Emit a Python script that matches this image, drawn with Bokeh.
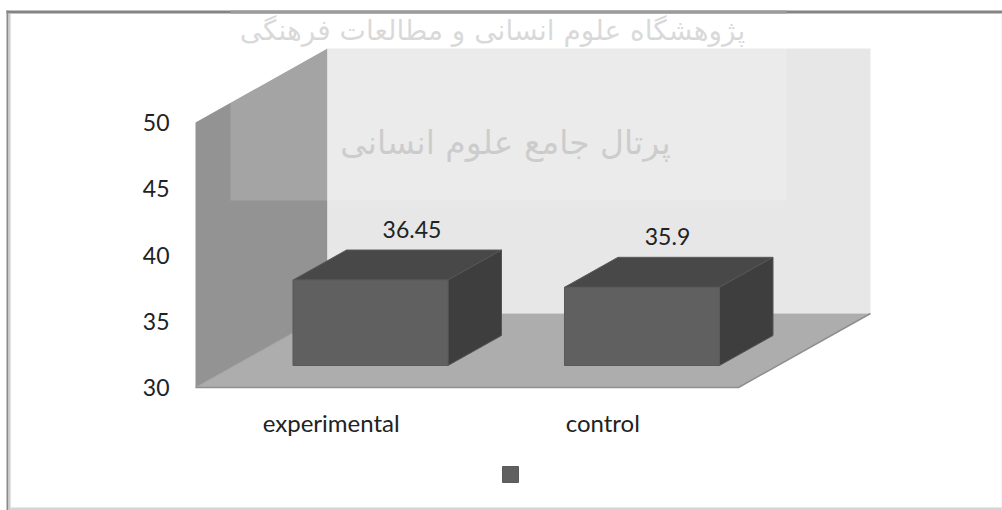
from bokeh.plotting import figure
from bokeh.embed import file_html
from bokeh.resources import INLINE
from bokeh.core.properties import value
from bokeh.models import (Range1d, FixedTicker, BoxAnnotation, Legend, LegendItem)

categories = ["experimental", "control"]
scores = [36.45, 35.9]
score_labels = ["36.45", "35.9"]
y_ticks = [30, 35, 40, 45, 50]
watermark_top = "پژوهشگاه علوم انسانی و مطالعات فرهنگی"
watermark_mid = "پرتال جامع علوم انسانی"

# plot geometry: one category is 271.5 px wide, one value unit is 13.25 px tall
PX_X, PX_Y = 271.5, 13.25
X0_PAGE, Y30_PAGE = 195.0, 387.0
W, H = 1002, 510
px = lambda x: (x - X0_PAGE) / PX_X
py = lambda y: 30 + (Y30_PAGE - y) / PX_Y

DEPTH_X = 132 / PX_X
DEPTH_Y = 74 / PX_Y
Y_MIN, Y_MAX = 30, 50
N = len(categories)
FONT = "Lato"

def dx(d):
    return d * DEPTH_X

def dy(d):
    return d * DEPTH_Y

p = figure(width=W, height=H, output_backend="svg", toolbar_location=None,
           x_range=Range1d(px(0), px(W)), y_range=Range1d(py(H), py(0)),
           min_border=0, min_border_left=0, min_border_right=0, min_border_top=0,
           min_border_bottom=0, background_fill_color="white", border_fill_color="white",
           outline_line_color=None)
p.grid.visible = False

# walls and floor
p.patch([0, dx(1), dx(1), 0], [Y_MIN, Y_MIN + dy(1), Y_MAX + dy(1), Y_MAX],
        fill_color="#939393", line_color=None)
p.patch([dx(1), N + dx(1), N + dx(1), dx(1)],
        [Y_MIN + dy(1), Y_MIN + dy(1), Y_MAX + dy(1), Y_MAX + dy(1)],
        fill_color="#e7e7e7", line_color=None)
p.patch([0, N, N + dx(1), dx(1)], [Y_MIN, Y_MIN, Y_MIN + dy(1), Y_MIN + dy(1)],
        fill_color="#adadad", line_color=None)
p.line([0, N, N + dx(1)], [Y_MIN, Y_MIN, Y_MIN + dy(1)], line_color="#8f8f8f", line_width=1.5)
p.line([0, dx(1)], [Y_MIN, Y_MIN + dy(1)], line_color="#a0a0a0", line_width=1)

# watermark
p.text([px(492)], [py(30)], text=[watermark_top], text_font=value("DejaVu Sans"),
       text_font_size="28px", text_color="#b4b4b4", text_alpha=0.6,
       text_align="center", text_baseline="middle")
p.text([px(505)], [py(142)], text=[watermark_mid], text_font=value("DejaVu Sans"),
       text_font_size="33px", text_color="#b4b4b4", text_alpha=0.7,
       text_align="center", text_baseline="middle")
p.quad(left=[px(230)], right=[px(786)], top=[py(10)], bottom=[py(200)],
       fill_color="white", fill_alpha=0.16, line_color=None)

# 3D bars
BAR_W = 155 / PX_X
FRONT, BACK = 22 / 74, 52 / 74
lefts = [i + 0.5 - BAR_W / 2 + dx(FRONT) for i in range(N)]
rights = [l + BAR_W for l in lefts]
bases = [Y_MIN + dy(FRONT)] * N
tops = [b + s - Y_MIN for b, s in zip(bases, scores)]
depth_x = dx(BACK - FRONT)
depth_y = dy(BACK - FRONT)

p.patches([[l, r, r + depth_x, l + depth_x] for l, r in zip(lefts, rights)],
          [[t, t, t + depth_y, t + depth_y] for t in tops],
          fill_color="#484848", line_color="#5a5a5a", line_width=1)
p.patches([[r, r + depth_x, r + depth_x, r] for r in rights],
          [[b, b + depth_y, t + depth_y, t] for b, t in zip(bases, tops)],
          fill_color="#3e3e3e", line_color="#555555", line_width=1)
front = p.quad(left=lefts, right=rights, bottom=bases, top=tops,
               fill_color="#606060", line_color="#5a5a5a", line_width=1)

# data labels, sitting over the back edge of each bar
p.text([i + 0.5 + dx(BACK) for i in range(N)], [t + depth_y for t in tops],
       text=score_labels, x_offset=[-12, -28], y_offset=[-21, -21],
       text_font=value(FONT), text_font_size="23px", text_color="#222222",
       text_align="center", text_baseline="middle")

# axes drawn on the front plane of the 3D box
ya = p.yaxis[0]
ya.fixed_location = 0
ya.ticker = FixedTicker(ticks=y_ticks)
ya.axis_line_color = None
ya.major_tick_line_color = None
ya.minor_tick_line_color = None
ya.major_label_standoff = 20
ya.major_label_text_font = FONT
ya.major_label_text_font_size = "23px"
ya.major_label_text_color = "#222222"

xa = p.xaxis[0]
xa.fixed_location = Y_MIN
xa.ticker = FixedTicker(ticks=[i + 0.5 for i in range(N)])
xa.major_label_overrides = {i + 0.5: c for i, c in enumerate(categories)}
xa.axis_line_color = None
xa.major_tick_line_color = None
xa.minor_tick_line_color = None
xa.major_label_standoff = 14
xa.major_label_text_font = FONT
xa.major_label_text_font_size = "24px"
xa.major_label_text_color = "#222222"

# legend: a single swatch with an empty label
legend = Legend(items=[LegendItem(label=value(""), renderers=[front])],
                location=(500, 26), orientation="horizontal",
                background_fill_alpha=0, border_line_color=None,
                glyph_width=20, glyph_height=20, label_standoff=0, label_width=0,
                padding=0, margin=0, spacing=0, label_text_font_size="1px")
p.add_layout(legend, "center")

# picture frame
def frame_box(l, r, t, b, color):
    p.add_layout(BoxAnnotation(left=l, right=r, top=t, bottom=b,
                               left_units="canvas", right_units="canvas",
                               top_units="canvas", bottom_units="canvas",
                               fill_color=color, fill_alpha=1, line_color=None))

frame_box(6, 1002, 10, 13, "#848484")
frame_box(230, 786, 10, 13, "#9c9c9c")
frame_box(6, 8, 10, 510, "#8a8a8a")
frame_box(8, 10, 13, 510, "#cccccc")
frame_box(10, 1002, 507, 510, "#d4d4d4")
frame_box(1001, 1002, 13, 510, "#e6e6e6")

open("out.html", "w").write(file_html(p, INLINE))
